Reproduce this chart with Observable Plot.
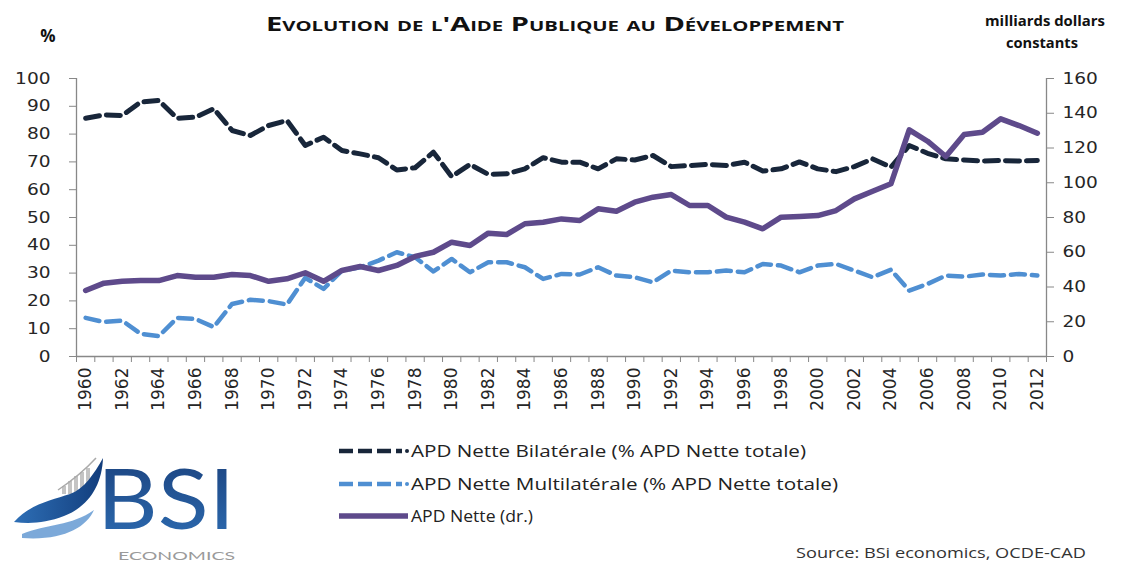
<!DOCTYPE html>
<html><head><meta charset="utf-8">
<script src="https://cdn.jsdelivr.net/npm/d3@7"></script>
<script src="https://cdn.jsdelivr.net/npm/@observablehq/plot@0.6"></script>
<style>
body{margin:0;background:#fff;}
#chart{width:1121px;height:565px;overflow:hidden;}
</style></head><body><div id="chart"></div>
<script>
const years = [1960,1961,1962,1963,1964,1965,1966,1967,1968,1969,1970,1971,1972,1973,1974,1975,1976,1977,1978,1979,1980,1981,1982,1983,1984,1985,1986,1987,1988,1989,1990,1991,1992,1993,1994,1995,1996,1997,1998,1999,2000,2001,2002,2003,2004,2005,2006,2007,2008,2009,2010,2011,2012];
const bilaterale = [85.7,86.9,86.7,91.5,92.1,85.7,86.1,89.1,81.3,79.5,83.1,84.9,75.9,
  78.9,74.1,72.9,71.5,67.1,67.9,73.5,64.7,69.1,65.5,65.7,67.5,71.5,
  69.9,69.9,67.5,71.1,70.7,72.3,68.3,68.7,69.1,68.7,69.9,66.7,67.5,
  70.0,67.5,66.5,68.3,71.1,68.1,75.9,73.1,71.1,70.7,70.3,70.5,70.3,70.5];
const multilaterale = [13.9,12.4,12.9,8.2,7.3,13.9,13.5,10.6,18.9,20.4,19.9,18.7,28.3,
  24.3,30.9,32.1,34.5,37.5,35.7,30.6,35.1,30.3,33.9,33.9,32.1,27.9,
  29.7,29.5,32.1,29.1,28.5,26.7,30.9,30.3,30.3,30.9,30.3,33.3,32.7,
  30.3,32.7,33.3,30.9,28.5,31.2,23.7,26.1,29.1,28.7,29.5,29.1,29.7,29.1];
const apdNette = [38.0,42.2,43.3,43.7,43.7,46.6,45.6,45.6,47.2,46.6,43.3,44.7,48.2,
  43.3,49.5,51.8,49.5,52.4,57.6,60.0,65.8,63.9,71.0,70.2,76.4,77.3,
  79.2,78.3,85.0,83.6,88.8,91.7,93.2,86.9,86.9,80.2,77.3,73.5,80.2,
  80.6,81.1,84.0,90.7,95.1,99.4,130.4,123.9,115.1,127.8,129.1,136.8,132.9,128.5];
const leftTicks = [0,10,20,30,40,50,60,70,80,90,100];
const rightTicks = [0,20,40,60,80,100,120,140,160];
const yearLabels = [1960,1962,1964,1966,1968,1970,1972,1974,1976,1978,1980,1982,1984,1986,1988,1990,1992,1994,1996,1998,2000,2002,2004,2006,2008,2010,2012];
const seriesNames = ["APD Nette Bilatérale (% APD Nette totale)", "APD Nette Multilatérale (% APD Nette totale)", "APD Nette (dr.)"];
const colors = {bil: "#18263a", multi: "#4f8fd2", net: "#5e4a8b"};

const rows = years.map((year, i) => ({year, bil: bilaterale[i], multi: multilaterale[i], net: apdNette[i]}));
const rightMax = 160, leftMax = 100;
const toLeft = v => v * leftMax / rightMax;

const W = 1121, H = 565;
const xDomain = [years[0] - 0.5, years[years.length - 1] + 0.5];
const boundaries = years.map(y => y - 0.5).concat([xDomain[1]]);
const axisGray = "#888888";

const plot = Plot.plot({
  width: W, height: H,
  marginLeft: 76, marginRight: 75, marginTop: 78, marginBottom: 209,
  style: {fontFamily: "'DejaVu Sans', sans-serif", fontSize: "16px", color: "#262626", background: "white", overflow: "visible"},
  x: {domain: xDomain, axis: null, label: null},
  y: {domain: [0, leftMax], axis: null, label: null},
  marks: [
    Plot.ruleX(xDomain, {stroke: axisGray, strokeWidth: 1.3}),
    Plot.ruleY([0], {stroke: axisGray, strokeWidth: 1.3}),
    Plot.axisY({ticks: leftTicks, anchor: "left", tickSize: 7, tickPadding: 19, stroke: axisGray, fill: "#262626", fontSize: 16, tickFormat: d => String(d), label: null}),
    Plot.axisY({ticks: rightTicks.map(toLeft), anchor: "right", tickSize: 7, tickPadding: 9, stroke: axisGray, fill: "#262626", fontSize: 16, tickFormat: d => String(Math.round(d * rightMax / leftMax)), label: null}),
    Plot.axisX({ticks: boundaries, anchor: "bottom", tickSize: 6, tickFormat: () => "", stroke: axisGray, label: null}),
    Plot.axisX({ticks: yearLabels, anchor: "bottom", tickSize: 0, tickPadding: 11, tickRotate: -90, fill: "#262626", fontSize: 17, tickFormat: d => String(d), label: null}),
    Plot.line(rows, {x: "year", y: "bil", stroke: colors.bil, strokeWidth: 5, strokeDasharray: "14,7"}),
    Plot.line(rows, {x: "year", y: "multi", stroke: colors.multi, strokeWidth: 4.5, strokeDasharray: "14,7"}),
    Plot.line(rows, {x: "year", y: d => toLeft(d.net), stroke: colors.net, strokeWidth: 5.5, strokeLinejoin: "round"})
  ]
});
document.getElementById("chart").appendChild(plot);

const svg = d3.select(plot);
svg.selectAll('g[aria-label="y-axis tick label"] text').each(function() {
  const t = this.textContent;
  this.setAttribute("textLength", t.length * 11.8);
  this.setAttribute("lengthAdjust", "spacingAndGlyphs");
});

const ann = svg.append("g").attr("font-family", "'Open Sans', sans-serif").attr("text-anchor", "start");

// Title
ann.append("text").attr("x", 555).attr("y", 31).attr("text-anchor", "middle")
  .attr("font-size", 20).attr("font-weight", "bold").style("font-variant", "small-caps")
  .attr("fill", "#111").attr("textLength", 578).attr("lengthAdjust", "spacingAndGlyphs")
  .text("Evolution de l'Aide Publique au Développement");
ann.append("text").attr("x", 48).attr("y", 42).attr("text-anchor", "middle")
  .attr("font-size", 17).attr("font-weight", "bold").attr("fill", "#111").text("%");
ann.append("text").attr("x", 1045).attr("y", 26).attr("text-anchor", "middle")
  .attr("font-size", 15).attr("font-weight", "bold").attr("fill", "#111")
  .attr("textLength", 120).attr("lengthAdjust", "spacingAndGlyphs").text("milliards dollars");
ann.append("text").attr("x", 1042).attr("y", 48).attr("text-anchor", "middle")
  .attr("font-size", 15).attr("font-weight", "bold").attr("fill", "#111")
  .attr("textLength", 72).attr("lengthAdjust", "spacingAndGlyphs").text("constants");

// Legend
const legY = [451, 484, 516];
const legLen = [395, 427, 122];
const legStyle = [
  {c: colors.bil, dash: "14,5", w: 4.5, dot: true},
  {c: colors.multi, dash: "14,5", w: 4.5, dot: true},
  {c: colors.net, dash: null, w: 5.5, dot: false}
];
seriesNames.forEach((name, i) => {
  const s = legStyle[i];
  const g = ann.append("g");
  g.append("line").attr("x1", 339).attr("x2", s.dot ? 402 : 408).attr("y1", legY[i]).attr("y2", legY[i])
    .attr("stroke", s.c).attr("stroke-width", s.w).attr("stroke-dasharray", s.dash);
  if (s.dot) g.append("circle").attr("cx", 407).attr("cy", legY[i]).attr("r", 2).attr("fill", s.c);
  g.append("text").attr("x", 411).attr("y", legY[i] + 6).attr("text-anchor", "start").attr("font-size", 17).attr("fill", "#222")
    .attr("textLength", legLen[i]).attr("lengthAdjust", "spacingAndGlyphs").text(name);
});

// Source
ann.append("text").attr("x", 1086).attr("y", 558).attr("text-anchor", "end")
  .attr("font-size", 15).attr("fill", "#333")
  .attr("textLength", 290).attr("lengthAdjust", "spacingAndGlyphs")
  .text("Source: BSi economics, OCDE-CAD");

// Logo
const defs = svg.append("defs");
const grad = defs.append("linearGradient").attr("id", "bsiGrad").attr("x1", 0).attr("y1", 0).attr("x2", 0).attr("y2", 1);
grad.append("stop").attr("offset", "0%").attr("stop-color", "#1a3f7a");
grad.append("stop").attr("offset", "100%").attr("stop-color", "#2d6db3");
const grad2 = defs.append("linearGradient").attr("id", "handGrad").attr("x1", 0).attr("y1", 0).attr("x2", 1).attr("y2", 0);
grad2.append("stop").attr("offset", "0%").attr("stop-color", "#2e6fb6");
grad2.append("stop").attr("offset", "100%").attr("stop-color", "#123d7c");
const logo = svg.append("g").attr("text-anchor", "start");
[[62,486,4,8],[68,481,4,13],[74,476,4,18],[80,472,4,22],[86,468,4,26]].forEach(([x,y,w,h]) =>
  logo.append("rect").attr("x", x).attr("y", y).attr("width", w).attr("height", h).attr("fill", "#c4c4c4"));
logo.append("path").attr("d", "M58,490 C70,482 85,470 96,458").attr("fill", "none").attr("stroke", "#aaa").attr("stroke-width", 1.5);
logo.append("path").attr("fill", "url(#handGrad)")
  .attr("d", "M14,522 C30,504 52,500 70,494 C84,489 94,474 103,458 C102,484 90,506 64,516 C46,523 30,524 14,522 Z");
logo.append("path").attr("fill", "#5b93cf").attr("opacity", 0.8)
  .attr("d", "M22,534 C46,524 72,526 94,510 C86,528 62,541 22,538 Z");
logo.append("text").attr("x", 97).attr("y", 529).attr("font-family", "Lato, sans-serif")
  .attr("font-size", 84).attr("fill", "url(#bsiGrad)")
  .attr("textLength", 138).attr("lengthAdjust", "spacingAndGlyphs").text("BSI");
logo.append("text").attr("x", 118).attr("y", 560).attr("font-family", "Lato, sans-serif")
  .attr("font-size", 12).attr("fill", "#9a9a9a")
  .attr("textLength", 117).attr("lengthAdjust", "spacingAndGlyphs").text("ECONOMICS");
</script></body></html>
